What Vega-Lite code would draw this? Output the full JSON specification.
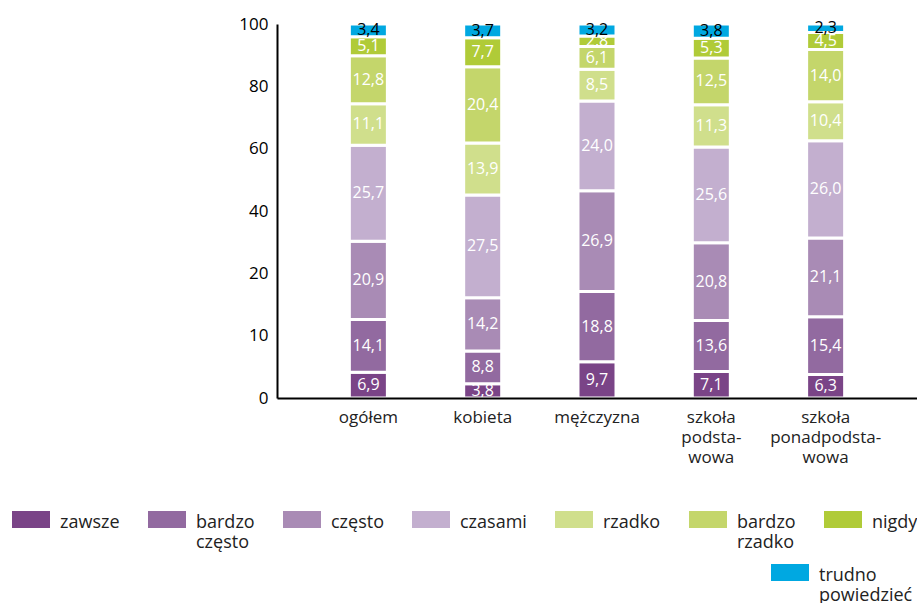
{
  "$schema": "https://vega.github.io/schema/vega-lite/v6.json",
  "width": 640,
  "height": 374,
  "autosize": {"type": "none"},
  "padding": {"left": 277, "top": 24, "right": 0, "bottom": 205},
  "background": "white",
  "config": {
    "view": {"stroke": null},
    "font": "Open Sans",
    "locale": {"number": {"decimal": ",", "thousands": " ", "grouping": [3], "currency": ["", " zł"]}},
    "style": {"guide-label": {"lineHeight": 20}}
  },
  "data": {
    "values": [
      {"group": "ogółem", "answer": "zawsze", "k": 1, "value": 6.9},
      {"group": "ogółem", "answer": "bardzo często", "k": 2, "value": 14.1},
      {"group": "ogółem", "answer": "często", "k": 3, "value": 20.9},
      {"group": "ogółem", "answer": "czasami", "k": 4, "value": 25.7},
      {"group": "ogółem", "answer": "rzadko", "k": 5, "value": 11.1},
      {"group": "ogółem", "answer": "bardzo rzadko", "k": 6, "value": 12.8},
      {"group": "ogółem", "answer": "nigdy", "k": 7, "value": 5.1},
      {"group": "ogółem", "answer": "trudno powiedzieć", "k": 8, "value": 3.4},
      {"group": "kobieta", "answer": "zawsze", "k": 1, "value": 3.8},
      {"group": "kobieta", "answer": "bardzo często", "k": 2, "value": 8.8},
      {"group": "kobieta", "answer": "często", "k": 3, "value": 14.2},
      {"group": "kobieta", "answer": "czasami", "k": 4, "value": 27.5},
      {"group": "kobieta", "answer": "rzadko", "k": 5, "value": 13.9},
      {"group": "kobieta", "answer": "bardzo rzadko", "k": 6, "value": 20.4},
      {"group": "kobieta", "answer": "nigdy", "k": 7, "value": 7.7},
      {"group": "kobieta", "answer": "trudno powiedzieć", "k": 8, "value": 3.7},
      {"group": "mężczyzna", "answer": "zawsze", "k": 1, "value": 9.7},
      {"group": "mężczyzna", "answer": "bardzo często", "k": 2, "value": 18.8},
      {"group": "mężczyzna", "answer": "często", "k": 3, "value": 26.9},
      {"group": "mężczyzna", "answer": "czasami", "k": 4, "value": 24.0},
      {"group": "mężczyzna", "answer": "rzadko", "k": 5, "value": 8.5},
      {"group": "mężczyzna", "answer": "bardzo rzadko", "k": 6, "value": 6.1},
      {"group": "mężczyzna", "answer": "nigdy", "k": 7, "value": 2.8},
      {"group": "mężczyzna", "answer": "trudno powiedzieć", "k": 8, "value": 3.2},
      {"group": "szkoła podstawowa", "answer": "zawsze", "k": 1, "value": 7.1},
      {"group": "szkoła podstawowa", "answer": "bardzo często", "k": 2, "value": 13.6},
      {"group": "szkoła podstawowa", "answer": "często", "k": 3, "value": 20.8},
      {"group": "szkoła podstawowa", "answer": "czasami", "k": 4, "value": 25.6},
      {"group": "szkoła podstawowa", "answer": "rzadko", "k": 5, "value": 11.3},
      {"group": "szkoła podstawowa", "answer": "bardzo rzadko", "k": 6, "value": 12.5},
      {"group": "szkoła podstawowa", "answer": "nigdy", "k": 7, "value": 5.3},
      {"group": "szkoła podstawowa", "answer": "trudno powiedzieć", "k": 8, "value": 3.8},
      {"group": "szkoła ponadpodstawowa", "answer": "zawsze", "k": 1, "value": 6.3},
      {"group": "szkoła ponadpodstawowa", "answer": "bardzo często", "k": 2, "value": 15.4},
      {"group": "szkoła ponadpodstawowa", "answer": "często", "k": 3, "value": 21.1},
      {"group": "szkoła ponadpodstawowa", "answer": "czasami", "k": 4, "value": 26.0},
      {"group": "szkoła ponadpodstawowa", "answer": "rzadko", "k": 5, "value": 10.4},
      {"group": "szkoła ponadpodstawowa", "answer": "bardzo rzadko", "k": 6, "value": 14.0},
      {"group": "szkoła ponadpodstawowa", "answer": "nigdy", "k": 7, "value": 4.5},
      {"group": "szkoła ponadpodstawowa", "answer": "trudno powiedzieć", "k": 8, "value": 2.3}
    ]
  },
  "encoding": {
    "x": {
      "field": "group",
      "type": "nominal",
      "sort": ["ogółem", "kobieta", "mężczyzna", "szkoła podstawowa", "szkoła ponadpodstawowa"],
      "scale": {"paddingInner": 0.6675, "paddingOuter": 0.633},
      "axis": {
        "title": null,
        "labelAngle": 0,
        "labelFontSize": 17,
        "labelColor": "#222222",
        "ticks": false,
        "tickSize": 0,
        "domainColor": "#000000",
        "domainWidth": 2,
        "labelPadding": 11,
        "zindex": 1,
        "labelExpr": "datum.label == 'szkoła podstawowa' ? ['szkoła', 'podsta-', 'wowa'] : datum.label == 'szkoła ponadpodstawowa' ? ['szkoła', 'ponadpodsta-', 'wowa'] : datum.label"
      }
    },
    "y": {
      "field": "value",
      "type": "quantitative",
      "stack": "zero",
      "scale": {"domain": [0, 100], "nice": false},
      "axis": {
        "title": null,
        "grid": false,
        "ticks": false,
        "tickSize": 0,
        "domainColor": "#000000",
        "domainWidth": 2,
        "labelFontSize": 17,
        "labelColor": "#000000",
        "labelPadding": 9,
        "zindex": 1,
        "values": [0, 16.6667, 33.3333, 50, 66.6667, 83.3333, 100],
        "labelExpr": "datum.value < 1 ? '0' : datum.value < 20 ? '10' : datum.value < 40 ? '20' : datum.value < 60 ? '40' : datum.value < 70 ? '60' : datum.value < 90 ? '80' : '100'"
      }
    },
    "order": {"field": "k", "type": "quantitative"}
  },
  "layer": [
    {
      "mark": {"type": "bar", "stroke": "white", "strokeWidth": 3},
      "encoding": {
        "color": {
          "field": "answer",
          "type": "nominal",
          "scale": {
            "domain": ["zawsze", "bardzo często", "często", "czasami", "rzadko", "bardzo rzadko", "nigdy", "trudno powiedzieć"],
            "range": ["#7a4487", "#926aa0", "#a98bb5", "#c3afcf", "#d0df8c", "#c4d66b", "#b0cb38", "#00a8e1"]
          },
          "legend": {
            "title": null,
            "orient": "none",
            "legendX": -265,
            "legendY": 471,
            "direction": "horizontal",
            "values": ["zawsze", "bardzo często", "często", "czasami", "rzadko", "bardzo rzadko", "nigdy"],
            "symbolType": "M-1,-0.158H1V0.737H-1Z",
            "symbolSize": 1444,
            "symbolStrokeWidth": 0,
            "labelFontSize": 18,
            "labelColor": "#222222",
            "labelBaseline": "top",
            "labelOffset": 10,
            "labelLimit": 250,
            "columnPadding": 28,
            "padding": 0,
            "labelExpr": "indexof(datum.label, ' ') < 0 ? [datum.label, ' '] : split(datum.label, ' ')"
          }
        }
      }
    },
    {
      "mark": {"type": "bar", "stroke": "white", "strokeWidth": 3},
      "encoding": {
        "color": {
          "field": "answer",
          "type": "nominal",
          "scale": {
            "domain": ["zawsze", "bardzo często", "często", "czasami", "rzadko", "bardzo rzadko", "nigdy", "trudno powiedzieć"],
            "range": ["#7a4487", "#926aa0", "#a98bb5", "#c3afcf", "#d0df8c", "#c4d66b", "#b0cb38", "#00a8e1"]
          },
          "legend": {
            "title": null,
            "orient": "none",
            "legendX": 494,
            "legendY": 524,
            "direction": "horizontal",
            "values": ["trudno powiedzieć"],
            "symbolType": "M-1,-0.158H1V0.737H-1Z",
            "symbolSize": 1444,
            "symbolStrokeWidth": 0,
            "labelFontSize": 18,
            "labelColor": "#222222",
            "labelBaseline": "top",
            "labelOffset": 10,
            "labelLimit": 250,
            "padding": 0,
            "labelExpr": "split(datum.label, ' ')"
          }
        }
      }
    },
    {
      "mark": {"type": "text", "fontSize": 16, "baseline": "middle", "align": "center"},
      "encoding": {
        "y": {"field": "value", "type": "quantitative", "stack": "zero", "bandPosition": 0.5, "title": null},
        "text": {"field": "value", "type": "quantitative", "format": ".1f"},
        "color": {"condition": {"test": "datum.answer === 'trudno powiedzieć'", "value": "#000000"}, "value": "#ffffff"}
      }
    }
  ],
  "resolve": {"scale": {"color": "independent"}}
}
